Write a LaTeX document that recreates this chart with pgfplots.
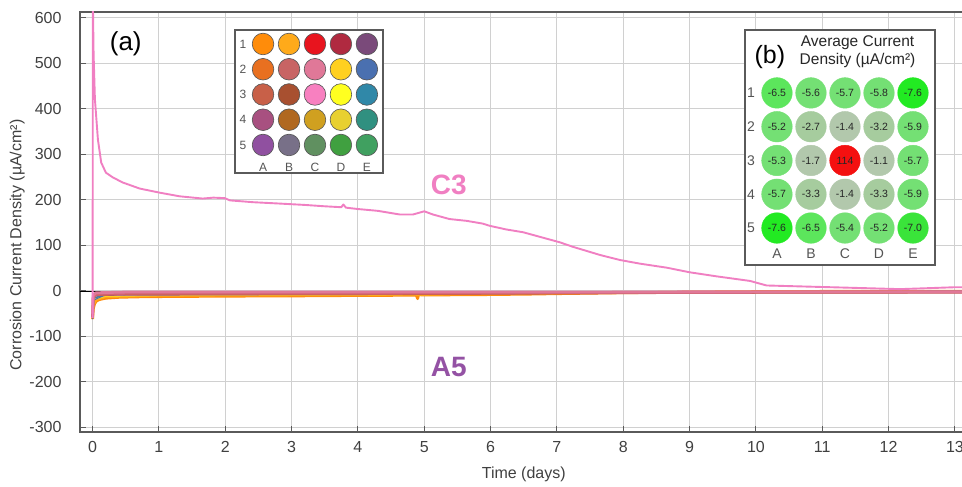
\documentclass[border=0pt]{standalone}
\usepackage{pgfplots}
\pgfplotsset{compat=1.18}
\usepackage{pgfplotstable}
\usepackage{fontspec}
\setmainfont{Liberation Sans}
\definecolor{axgray}{HTML}{5A5A5A}
\definecolor{txtgray}{HTML}{404040}
\definecolor{gridgray}{HTML}{D0D0D0}
\definecolor{insetline}{HTML}{555555}
\definecolor{cpink}{HTML}{F07FC2}
\definecolor{apurple}{HTML}{9452A4}
\definecolor{corange}{HTML}{FF8C0A}
\definecolor{cyorange}{HTML}{FFAA1A}
\definecolor{cyellow}{HTML}{FFD020}
\definecolor{cpurple}{HTML}{9050A0}
\definecolor{cblue}{HTML}{4A70B0}
\definecolor{cteal}{HTML}{3088A8}
\definecolor{cpinkred}{HTML}{E07898}
\definecolor{cbrownred}{HTML}{D06470}
\definecolor{crust}{HTML}{C86048}
\definecolor{cgray}{HTML}{787088}
% well colours, inset (a)
\definecolor{wA1}{HTML}{FF8C0A}\definecolor{wB1}{HTML}{FFAA1A}\definecolor{wC1}{HTML}{E8141E}\definecolor{wD1}{HTML}{B02A40}\definecolor{wE1}{HTML}{7A4A7A}
\definecolor{wA2}{HTML}{E87020}\definecolor{wB2}{HTML}{C86464}\definecolor{wC2}{HTML}{E07898}\definecolor{wD2}{HTML}{FFD020}\definecolor{wE2}{HTML}{4A70B0}
\definecolor{wA3}{HTML}{C86048}\definecolor{wB3}{HTML}{A85030}\definecolor{wC3}{HTML}{F880C0}\definecolor{wD3}{HTML}{FFFF20}\definecolor{wE3}{HTML}{3088A8}
\definecolor{wA4}{HTML}{A85080}\definecolor{wB4}{HTML}{B06820}\definecolor{wC4}{HTML}{D0A020}\definecolor{wD4}{HTML}{E8D030}\definecolor{wE4}{HTML}{309080}
\definecolor{wA5}{HTML}{9050A0}\definecolor{wB5}{HTML}{787088}\definecolor{wC5}{HTML}{609060}\definecolor{wD5}{HTML}{40A040}\definecolor{wE5}{HTML}{40A060}
% value colours, inset (b)
\definecolor{gA}{HTML}{22EA22}\definecolor{gB}{HTML}{3AE43A}\definecolor{gC}{HTML}{5CE65C}\definecolor{gD}{HTML}{74E074}
\definecolor{hA}{HTML}{A6CC9E}\definecolor{hB}{HTML}{B2C8AC}\definecolor{rA}{HTML}{F41010}

\pgfplotstableread{
c r k
1 1 A1
2 1 B1
3 1 C1
4 1 D1
5 1 E1
1 2 A2
2 2 B2
3 2 C2
4 2 D2
5 2 E2
1 3 A3
2 3 B3
3 3 C3
4 3 D3
5 3 E3
1 4 A4
2 4 B4
3 4 C4
4 4 D4
5 4 E4
1 5 A5
2 5 B5
3 5 C5
4 5 D5
5 5 E5
}\tabA

\pgfplotstableread{
c r k v
1 1 gC -6.5
2 1 gD -5.6
3 1 gD -5.7
4 1 gD -5.8
5 1 gA -7.6
1 2 gD -5.2
2 2 hA -2.7
3 2 hB -1.4
4 2 hA -3.2
5 2 gD -5.9
1 3 gD -5.3
2 3 hB -1.7
3 3 rA 114
4 3 hB -1.1
5 3 gD -5.7
1 4 gD -5.7
2 4 hA -3.3
3 4 hB -1.4
4 4 hA -3.3
5 4 gD -5.9
1 5 gA -7.6
2 5 gC -6.5
3 5 gD -5.4
4 5 gD -5.2
5 5 gB -7.0
}\tabB

\newcommand\rowlab[3]{\node[font=\fontsize{#3}{#3}\selectfont, text=insetline] at (axis cs:#1,#2) {#2};}
\newcommand\collab[3]{\node[font=\fontsize{12}{14}\selectfont, text=insetline] at (axis cs:#1,#2) {#3};}
\newcommand\vlab[3]{\node[font=\fontsize{10.5}{12}\selectfont, text=black!85] at (axis cs:#1,#2) {#3};}

\begin{document}
\begin{tikzpicture}
\useasboundingbox (-80pt,-55pt) rectangle (882pt,432pt);
\begin{axis}[
  at={(0pt,0pt)}, anchor=south west, scale only axis,
  width=886pt, height=420pt,
  xmin=-0.19, xmax=13.167, ymin=-310, ymax=613,
  xtick={0,1,...,13}, ytick={-300,-200,...,600},
  grid=major, major grid style={draw=gridgray, line width=1.1pt},
  axis line style={draw=axgray, line width=1.2pt},
  every tick/.style={draw=axgray, line width=1pt}, major tick length=6pt,
  tick align=inside, xtick pos=left, ytick pos=left,
  tick label style={font=\fontsize{16}{18}\selectfont, text=txtgray},
  /pgf/number format/assume math mode=true,
  yticklabel style={xshift=-15pt},
  xticklabel style={yshift=-6pt},
  xlabel={Time (days)}, ylabel={Corrosion Current Density (µA/cm²)},
  every axis x label/.style={at={(axis cs:6.5,-310)}, anchor=north, yshift=-31pt,
     font=\fontsize{16}{18}\selectfont, text=txtgray},
  every axis y label/.style={at={(rel axis cs:-0.0709,0.445)}, rotate=90, anchor=center,
     font=\fontsize{16}{18}\selectfont, text=txtgray},
]
\addplot[black, line width=0.8pt] coordinates {(-0.19,0)(13.167,0)};
% near-zero cluster of wells
\addplot[corange, line width=2.8pt, line join=round] coordinates {
(0,-62)(0.01,-40)(0.03,-28)(0.06,-22)(0.1,-19)(0.2,-16)(0.4,-14)(0.7,-13)(1,-12.5)(2,-11.5)(3,-11)(4,-10)(4.88,-9.5)(4.9,-17)(4.92,-4)(4.95,-9)(5.5,-8.5)(6,-8)(6.6,-7)(7,-6)(7.5,-5)(8,-4)(9,-2.5)(10,-1.5)(11,-1)(13.2,-1)};
\addplot[cyorange, line width=1.5pt, line join=round] coordinates {
(0,-50)(0.02,-30)(0.06,-20)(0.2,-14)(1,-11)(3,-10)(5,-8.5)(7,-5)(9,-2)(13.2,-1)};
\addplot[cyellow, line width=1.2pt, line join=round] coordinates {
(0,-40)(0.03,-18)(0.2,-12)(1,-10)(5,-8)(8,-4)(13.2,-1)};
\addplot[cpurple, line width=1.5pt, line join=round] coordinates {
(0,-45)(0.02,-15)(0.2,-9)(2,-8)(5,-7)(7,-5)(8,-4)(9,-3)(10,-2)(13.2,-1)};
\addplot[cblue, line width=1pt, line join=round] coordinates {
(0,-62)(0.02,-20)(0.2,-8)(2,-7)(5,-6)(8,-3)(13.2,-1)};
\addplot[cteal, line width=1pt, line join=round] coordinates {
(0,-50)(0.02,-16)(0.2,-7)(2,-6.5)(5,-5.5)(8,-3)(13.2,-1)};
\addplot[cgray, line width=0.8pt, line join=round] coordinates {
(0,-30)(0.05,-6)(1,-3)(13.2,-1)};
\addplot[crust, line width=2.2pt, line join=round] coordinates {
(0,-55)(0.01,-16)(0.05,-9)(0.5,-7)(5,-6.5)(9,-4)(13.2,-3)};
\addplot[cbrownred, line width=3pt, line join=round] coordinates {
(0,-58)(0.01,-14)(0.05,-7)(0.5,-5)(5,-4.5)(9,-3)(13.2,-2.5)};
\addplot[cpinkred, line width=2.8pt, line join=round] coordinates {
(0,-50)(0.01,-10)(0.05,-4)(0.5,-2.5)(5,-2.5)(10,-2)(13.2,-2)};
% C3
\addplot[cpink, line width=1.9pt, line join=round] coordinates {
(0,-60)(0.004,640)(0.015,520)(0.035,421)(0.08,333)(0.13,282)(0.2,260)(0.31,249)(0.46,238)(0.71,225)(1.01,216)(1.31,208)(1.66,203)(1.82,205)(1.99,204)(2.07,199)(2.42,195)(2.82,192)(3.2,189)(3.5,186)(3.75,184)(3.78,190)(3.82,183)(4.0,180)(4.3,176)(4.63,168)(4.83,168)(5.0,175)(5.13,168)(5.38,158)(5.64,154)(5.88,148)(5.99,143)(6.24,135)(6.49,129)(6.79,117)(7.04,107)(7.24,97)(7.65,79)(7.95,68)(8.25,60)(8.66,51)(9.0,41)(9.41,32)(9.91,22)(10.01,18)(10.16,12)(10.66,10)(11.17,8)(12.17,4)(12.58,6)(12.97,8)(13.2,8)};
\node[font=\fontsize{28}{30}\selectfont\bfseries, text=cpink] at (axis cs:5.37,234) {C3};
\node[font=\fontsize{28}{30}\selectfont\bfseries, text=apurple] at (axis cs:5.37,-168) {A5};
\node[font=\fontsize{26}{28}\selectfont] at (axis cs:0.50,543) {(a)};
\end{axis}

% inset (a): well colour map
\begin{axis}[at={(155pt,259pt)}, anchor=south west, scale only axis,
  width=148pt, height=143pt, xmin=-0.08, xmax=5.62, ymin=0.446, ymax=6.109, y dir=reverse,
  xtick=\empty, ytick=\empty, axis line style={draw=axgray, line width=1.2pt},
  axis background/.style={fill=white}, clip=false]
\addplot[scatter, only marks, mark=*, mark size=10.8pt,
  mark options={draw=insetline, line width=0.6pt},
  point meta=explicit symbolic,
  scatter/classes={
    A1={fill=wA1},B1={fill=wB1},C1={fill=wC1},D1={fill=wD1},E1={fill=wE1},
    A2={fill=wA2},B2={fill=wB2},C2={fill=wC2},D2={fill=wD2},E2={fill=wE2},
    A3={fill=wA3},B3={fill=wB3},C3={fill=wC3},D3={fill=wD3},E3={fill=wE3},
    A4={fill=wA4},B4={fill=wB4},C4={fill=wC4},D4={fill=wD4},E4={fill=wE4},
    A5={fill=wA5},B5={fill=wB5},C5={fill=wC5},D5={fill=wD5},E5={fill=wE5}}
  ] table[x=c,y=r,meta=k] {\tabA};
\rowlab{0.23}{1}{12}\rowlab{0.23}{2}{12}\rowlab{0.23}{3}{12}\rowlab{0.23}{4}{12}\rowlab{0.23}{5}{12}
\collab{1}{5.87}{A}\collab{2}{5.87}{B}\collab{3}{5.87}{C}\collab{4}{5.87}{D}\collab{5}{5.87}{E}
\end{axis}

% inset (b): average current density
\begin{axis}[at={(665pt,167pt)}, anchor=south west, scale only axis,
  width=190pt, height=235pt, xmin=0.06, xmax=5.647, ymin=-0.864, ymax=6.095, y dir=reverse,
  xtick=\empty, ytick=\empty, axis line style={draw=axgray, line width=1.2pt},
  axis background/.style={fill=white}, clip=false]
\addplot[scatter, only marks, mark=*, mark size=15.3pt,
  point meta=explicit symbolic,
  scatter/classes={
    gA={draw=gA,fill=gA}, gB={draw=gB,fill=gB}, gC={draw=gC,fill=gC}, gD={draw=gD,fill=gD},
    hA={draw=hA,fill=hA}, hB={draw=hB,fill=hB}, rA={draw=rA,fill=rA}}
  ] table[x=c,y=r,meta=k] {\tabB};
\node[font=\fontsize{25}{27}\selectfont] at (axis cs:0.79,-0.065) {(b)};
\node[align=center, font=\fontsize{15.5}{17.5}\selectfont, text=black!85] at (axis cs:3.37,-0.228) {Average Current\\Density (µA/cm²)};
\rowlab{0.235}{1}{14}\rowlab{0.235}{2}{14}\rowlab{0.235}{3}{14}\rowlab{0.235}{4}{14}\rowlab{0.235}{5}{14}
\node[font=\fontsize{14}{16}\selectfont, text=insetline] at (axis cs:1,5.77) {A};
\node[font=\fontsize{14}{16}\selectfont, text=insetline] at (axis cs:2,5.77) {B};
\node[font=\fontsize{14}{16}\selectfont, text=insetline] at (axis cs:3,5.77) {C};
\node[font=\fontsize{14}{16}\selectfont, text=insetline] at (axis cs:4,5.77) {D};
\node[font=\fontsize{14}{16}\selectfont, text=insetline] at (axis cs:5,5.77) {E};
\end{axis}
% overlay for the values printed inside the circles of inset (b)
\begin{axis}[at={(665pt,167pt)}, anchor=south west, scale only axis,
  width=190pt, height=235pt, xmin=0.06, xmax=5.647, ymin=-0.864, ymax=6.095, y dir=reverse,
  hide axis, clip=false]
\vlab{1}{1}{-6.5}\vlab{2}{1}{-5.6}\vlab{3}{1}{-5.7}\vlab{4}{1}{-5.8}\vlab{5}{1}{-7.6}
\vlab{1}{2}{-5.2}\vlab{2}{2}{-2.7}\vlab{3}{2}{-1.4}\vlab{4}{2}{-3.2}\vlab{5}{2}{-5.9}
\vlab{1}{3}{-5.3}\vlab{2}{3}{-1.7}\vlab{3}{3}{114}\vlab{4}{3}{-1.1}\vlab{5}{3}{-5.7}
\vlab{1}{4}{-5.7}\vlab{2}{4}{-3.3}\vlab{3}{4}{-1.4}\vlab{4}{4}{-3.3}\vlab{5}{4}{-5.9}
\vlab{1}{5}{-7.6}\vlab{2}{5}{-6.5}\vlab{3}{5}{-5.4}\vlab{4}{5}{-5.2}\vlab{5}{5}{-7.0}
\end{axis}
\end{tikzpicture}
\end{document}
